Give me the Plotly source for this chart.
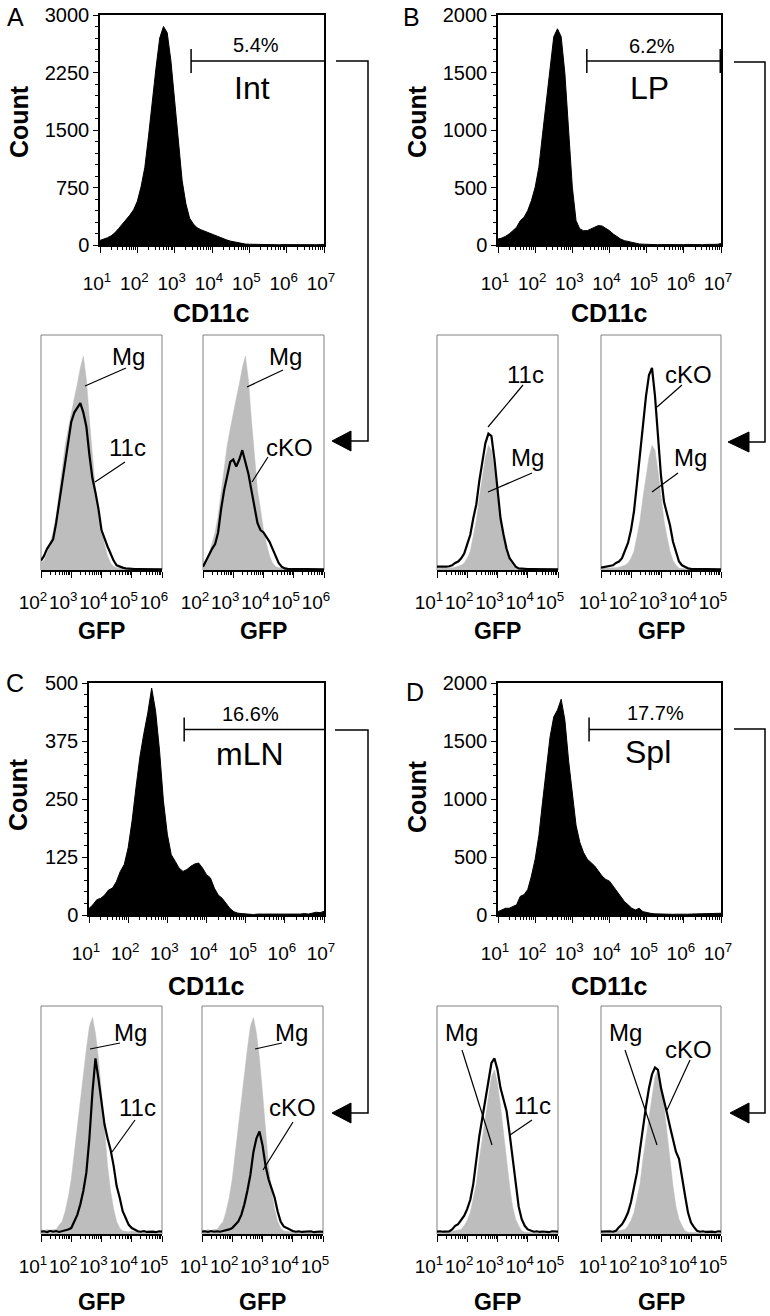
import plotly.graph_objects as go

W, H = 770, 1316
FONT = "Liberation Sans"

# ---------------- data ----------------
PANELS = ["A", "B", "C", "D"]
TISSUES = ["Int", "LP", "mLN", "Spl"]
GATE_PCT = ["5.4%", "6.2%", "16.6%", "17.7%"]
GATE_START_LOG = [3.44, 3.39, 3.43, 3.45]
GATE_COUNT = [2400, 1600, 400, 1600]
COUNT_MAX = [3000, 2000, 500, 2000]
COUNT_TICKS = [[0, 750, 1500, 2250, 3000], [0, 500, 1000, 1500, 2000],
               [0, 125, 250, 375, 500], [0, 500, 1000, 1500, 2000]]
COUNT_MINOR = [150, 100, 25, 100]

CD11C_LOG_BINS = [1.0, 1.1, 1.2, 1.3, 1.4, 1.5, 1.6, 1.7, 1.8, 1.9,
                  2.0, 2.1, 2.2, 2.3, 2.4, 2.5, 2.6, 2.7, 2.8, 2.9,
                  3.0, 3.1, 3.2, 3.3, 3.4, 3.5, 3.6, 3.7, 3.8, 3.9,
                  4.0, 4.1, 4.2, 4.3, 4.4, 4.5, 4.6, 4.7, 4.8, 4.9,
                  5.0, 5.1, 5.2, 5.3, 5.4, 5.5, 5.6, 5.7, 5.8, 5.9,
                  6.0, 6.1, 6.2, 6.3, 6.4, 6.5, 6.6, 6.7, 6.8, 6.9, 7.0]

CD11C_INT = [60, 75, 95, 120, 160, 215, 270, 330, 390, 460,
             570, 760, 1010, 1420, 1880, 2310, 2700, 2850, 2770, 2400,
             1880, 1360, 840, 540, 350, 275, 225, 200, 180, 160,
             145, 120, 95, 80, 65, 50, 40, 25, 15, 12,
             10, 8, 6, 5, 4, 5, 3, 4, 3, 5,
             4, 3, 4, 5, 3, 4, 3, 5, 4, 6, 8]
CD11C_LP = [52, 60, 75, 96, 125, 154, 212, 241, 300, 387,
            503, 677, 968, 1259, 1549, 1811, 1880, 1811, 1491, 968,
            503, 212, 140, 125, 125, 140, 154, 169, 165, 148,
            125, 96, 73, 52, 38, 30, 23, 15, 9, 7,
            5, 4, 5, 3, 4, 3, 5, 4, 3, 4,
            3, 5, 3, 4, 4, 3, 5, 4, 3, 6, 12]
CD11C_MLN = [14, 22, 33, 36, 43, 54, 58, 72, 94, 109,
             145, 203, 275, 341, 391, 435, 489, 440, 355, 246,
             174, 130, 116, 101, 94, 98, 105, 110, 112, 101,
             87, 80, 58, 43, 36, 25, 14, 7, 4, 3,
             2, 2, 1, 2, 2, 1, 2, 1, 2, 2,
             1, 2, 2, 1, 2, 3, 2, 4, 6, 5, 8]
CD11C_SPL = [29, 44, 58, 58, 73, 88, 161, 175, 219, 336,
             482, 686, 978, 1270, 1533, 1708, 1767, 1860, 1679, 1329,
             1037, 774, 628, 540, 482, 453, 423, 380, 336, 307,
             292, 248, 204, 161, 117, 88, 58, 44, 58, 29,
             20, 15, 10, 8, 9, 7, 8, 6, 7, 9,
             8, 7, 8, 9, 7, 8, 10, 8, 9, 12, 15]
CD11C_COUNTS = [CD11C_INT, CD11C_LP, CD11C_MLN, CD11C_SPL]

GFP_LOG_BINS_A = [2.0, 2.1, 2.2, 2.3, 2.4, 2.5, 2.6, 2.7, 2.8, 2.9,
                  3.0, 3.1, 3.2, 3.3, 3.4, 3.5, 3.6, 3.7, 3.8, 3.9,
                  4.0, 4.1, 4.2, 4.3, 4.4, 4.5, 4.6, 4.7, 4.8, 4.9,
                  5.0, 5.1, 5.2, 5.3, 5.4, 5.5, 5.6, 5.7, 5.8, 5.9, 6.0]
GFP_LOG_BINS = [1.0, 1.1, 1.2, 1.3, 1.4, 1.5, 1.6, 1.7, 1.8, 1.9,
                2.0, 2.1, 2.2, 2.3, 2.4, 2.5, 2.6, 2.7, 2.8, 2.9,
                3.0, 3.1, 3.2, 3.3, 3.4, 3.5, 3.6, 3.7, 3.8, 3.9,
                4.0, 4.1, 4.2, 4.3, 4.4, 4.5, 4.6, 4.7, 4.8, 4.9, 5.0]

# GFP histograms, % of max (Mg = grey filled, 11c / cKO = black line)
GFP_INT_MG = [3, 4, 7, 11, 16, 23, 33, 43, 53, 60,
              67, 73, 79, 86, 91, 81, 64, 47, 34, 26,
              17, 11, 6, 3, 1.5, 1, 0.8, 0.6, 0.5, 0.5,
              0.4, 0.4, 0.3, 0.3, 0.3, 0.3, 0.3, 0.3, 0.3, 0.3, 0.3]
GFP_INT_11C = [4, 6, 9, 11, 13, 20, 29, 37, 46, 54,
               63, 67, 69, 71, 67, 61, 49, 39, 33, 26,
               17, 13, 10, 7, 4, 2, 1.4, 1, 0.7, 0.5,
               0.5, 0.4, 0.4, 0.4, 0.3, 0.3, 0.3, 0.3, 0.3, 0.3, 0.3]
GFP_INT_CKO = [1.4, 4, 6, 9, 11, 16, 26, 34, 40, 46,
               47, 44, 47, 51, 46, 41, 34, 26, 20, 17,
               16, 14, 12, 9, 6, 3, 1.4, 0.7, 0.5, 0.5,
               0.4, 0.4, 0.4, 0.3, 0.3, 0.3, 0.3, 0.3, 0.3, 0.3, 0.3]
GFP_LP_MG = [0.7, 0.7, 0.8, 0.8, 1, 1, 1.2, 1.5, 2, 3,
             5, 8, 14, 21, 31, 40, 48, 53, 51, 42,
             31, 21, 14, 8, 4, 2, 0.7, 0.5, 0.4, 0.4,
             0.3, 0.3, 0.3, 0.3, 0.3, 0.3, 0.3, 0.3, 0.3, 0.3, 0.3]
GFP_LP_11C = [1.4, 1.4, 1.2, 1.4, 1.6, 2, 3, 3.6, 5, 7,
              11, 15, 22, 28, 38, 47, 54, 58, 57, 47,
              34, 22, 15, 9, 5, 3, 1.4, 0.7, 0.5, 0.5,
              0.4, 0.4, 0.4, 0.3, 0.3, 0.3, 0.3, 0.3, 0.3, 0.3, 0.3]
GFP_LP_CKO = [1, 1.2, 1.4, 1.6, 2, 3, 3.6, 5, 8, 11.5,
              17, 25, 37, 50, 61, 74, 83, 86, 74, 57,
              40, 29, 24, 19, 12, 8, 3.6, 2, 1.4, 0.7,
              0.5, 0.5, 0.4, 0.4, 0.3, 0.3, 0.3, 0.3, 0.3, 0.3, 0.3]
GFP_MLN_MG = [2, 1.5, 2, 1.5, 2, 2, 4, 5.5, 10, 16,
              24, 36, 48, 59, 71, 81, 91, 95, 88, 77,
              62, 45, 30, 19, 11, 5.5, 2.6, 1.4, 1.2, 1,
              1.3, 1, 1.2, 0.9, 1, 1.1, 0.9, 1, 0.8, 1, 0.9]
GFP_MLN_11C = [1, 1.2, 0.8, 1.4, 1, 1.3, 0.9, 1.2, 1.5, 2,
               2.6, 5.5, 8.4, 13, 19, 27, 42, 62, 77, 68,
               59, 48, 42, 37, 30, 21, 16, 10, 7, 4,
               2.6, 2, 1.2, 1, 1.3, 0.9, 1.1, 1, 0.8, 1.2, 1]
GFP_MLN_CKO = [1, 1.2, 0.9, 1.3, 1, 1.2, 1, 1.3, 1.5, 2,
               2.6, 4, 5.5, 8.4, 13, 19, 26, 36, 42, 45,
               39, 30, 24, 20, 16, 10, 5.5, 3.3, 2.6, 2,
               1.3, 1, 1.2, 0.9, 1.1, 1, 1.2, 0.8, 1, 1.1, 0.9]
GFP_SPL_MG = [0.7, 0.7, 0.8, 0.8, 1, 1.2, 1.4, 1.7, 2, 3.6,
              6, 9.4, 15, 22, 33, 43, 51, 60, 69, 72,
              66, 56, 44, 33, 21, 12, 6.5, 3.6, 1.4, 0.8,
              0.7, 0.6, 0.5, 0.5, 0.4, 0.4, 0.4, 0.3, 0.3, 0.3, 0.3]
GFP_SPL_11C = [1, 1.2, 1, 1.2, 1.1, 2, 3.6, 4.3, 6, 8,
               11, 15, 22, 33, 43, 51, 59, 67, 75, 77,
               72, 64, 59, 54, 44, 33, 21, 12, 6.5, 3.6,
               2, 1.4, 1, 1.2, 0.9, 1.1, 1, 0.8, 1.2, 1, 1]
GFP_SPL_CKO = [1, 1.1, 0.9, 1.2, 1, 1.4, 3, 4.3, 6.5, 9.4,
               14, 20, 27, 37, 47, 56, 64, 70, 73, 72,
               64, 59, 53, 47, 41, 36, 33, 24, 17, 9.4,
               5, 3, 1.4, 1, 1.2, 0.9, 1.1, 1, 0.8, 1.2, 1]

GFP_BINS = [GFP_LOG_BINS_A, GFP_LOG_BINS, GFP_LOG_BINS, GFP_LOG_BINS]
GFP_RANGE = [(2, 6), (1, 5), (1, 5), (1, 5)]
GFP_MG = [GFP_INT_MG, GFP_LP_MG, GFP_MLN_MG, GFP_SPL_MG]
GFP_11C = [GFP_INT_11C, GFP_LP_11C, GFP_MLN_11C, GFP_SPL_11C]
GFP_CKO = [GFP_INT_CKO, GFP_LP_CKO, GFP_MLN_CKO, GFP_SPL_CKO]

# ---------------- layout geometry (pixels) ----------------
TOP_BOX = [(100, 324, 15, 245), (498, 721, 15, 245),
           (89, 324, 683, 915), (498, 721, 683, 915)]
GFP_BOX = [[(41, 162, 335, 570), (203, 324, 335, 570)],
           [(437, 558, 335, 570), (601, 721, 335, 570)],
           [(41, 162, 1006, 1234), (202, 323, 1006, 1234)],
           [(437, 558, 1006, 1234), (601, 721, 1006, 1234)]]

GREY = "#bdbdbd"


def px(p):
    return p / W


def py(p):
    return 1 - p / H


def sup_ticks(lo, hi):
    return ([10 ** k for k in range(lo, hi + 1)],
            [f"10<sup>{k}</sup>" for k in range(lo, hi + 1)])


def minor_vals(lo, hi):
    return [m * 10 ** k for k in range(lo, hi) for m in range(2, 10)]


tickfont = dict(family=FONT, size=19, color="black")
ytickfont = dict(family=FONT, size=20, color="black")
gfptickfont = dict(family=FONT, size=19, color="black")
fig = go.Figure()
layout = dict(width=W, height=H,
              margin=dict(l=0, r=0, t=0, b=0, pad=0, autoexpand=False),
              paper_bgcolor="white", plot_bgcolor="white", showlegend=False,
              font=dict(family=FONT, color="black"))
shapes = []
annotations = []


def ann(text, x, y, size, bold=False, angle=0):
    annotations.append(dict(
        text=f"<b>{text}</b>" if bold else text, x=px(x), y=py(y),
        xref="paper", yref="paper", showarrow=False, xanchor="center",
        yanchor="middle", textangle=angle,
        font=dict(family=FONT, size=size, color="black")))


def seg(x0, y0, x1, y1, w=1.2):
    shapes.append(dict(type="line", xref="paper", yref="paper",
                       x0=px(x0), y0=py(y0), x1=px(x1), y1=py(y1),
                       line=dict(color="black", width=w)))


n = 0
for i in range(4):
    # ---------- CD11c (top) histogram ----------
    n += 1
    x0, x1, y0, y1 = TOP_BOX[i]
    tv, tt = sup_ticks(1, 7)
    layout[f"xaxis{n}"] = dict(
        domain=[px(x0), px(x1)], anchor=f"y{n}", type="log", range=[1, 7],
        tickmode="array", tickvals=tv, ticktext=tt, ticks="outside",
        ticklen=6, tickwidth=1.3, tickcolor="black", showline=True,
        linecolor="black", linewidth=1.5, mirror=True, showgrid=False,
        zeroline=False, tickfont=tickfont, ticklabelstandoff=14,
        ticklabelshift=-3, tickangle=0, automargin=False,
        minor=dict(tickmode="array", tickvals=minor_vals(1, 7),
                   ticks="outside", ticklen=3, tickwidth=1,
                   tickcolor="black", showgrid=False))
    layout[f"yaxis{n}"] = dict(
        domain=[py(y1), py(y0)], anchor=f"x{n}", range=[0, COUNT_MAX[i]],
        tickmode="array", tickvals=COUNT_TICKS[i], ticks="outside",
        ticklen=5, tickwidth=1.3, tickcolor="black", showline=True,
        linecolor="black", linewidth=1.5, mirror=True, showgrid=False,
        zeroline=False, tickfont=ytickfont, automargin=False,
        minor=dict(tickmode="linear", tick0=0, dtick=COUNT_MINOR[i],
                   ticks="outside", ticklen=3, tickwidth=1,
                   tickcolor="black", showgrid=False))
    fig.add_trace(go.Scatter(
        x=[10 ** e for e in CD11C_LOG_BINS], y=CD11C_COUNTS[i], mode="lines",
        line=dict(color="black", width=1), fill="tozeroy", fillcolor="black",
        xaxis=f"x{n}", yaxis=f"y{n}", hoverinfo="skip"))
    # gate
    g0 = 10 ** GATE_START_LOG[i]
    gy = GATE_COUNT[i]
    half = 12 * COUNT_MAX[i] / (y1 - y0)
    fig.add_trace(go.Scatter(x=[g0, 1e7], y=[gy, gy], mode="lines",
                             line=dict(color="black", width=1.5),
                             xaxis=f"x{n}", yaxis=f"y{n}", hoverinfo="skip"))
    fig.add_trace(go.Scatter(x=[g0, g0], y=[gy - half, gy + half], mode="lines",
                             line=dict(color="black", width=1.5),
                             xaxis=f"x{n}", yaxis=f"y{n}", hoverinfo="skip"))
    if i == 1:
        fig.add_trace(go.Scatter(x=[1e7, 1e7], y=[gy - half, gy + half],
                                 mode="lines", line=dict(color="black", width=3),
                                 xaxis=f"x{n}", yaxis=f"y{n}", hoverinfo="skip",
                                 cliponaxis=False))

    # texts of the top panel
    cx = (x0 + x1) / 2
    ann(PANELS[i], [15, 411, 15, 415][i], [17, 17, 683, 692][i], 25)
    ann("Count", [19, 417, 18, 417][i], [122, 122, 795, 797][i], 25, bold=True, angle=-90)
    ann("CD11c", cx, [313, 313, 986, 986][i], 25, bold=True)
    ann(GATE_PCT[i], [256, 652, 250, 655][i], [45, 46, 714, 713][i], 20)
    ann(TISSUES[i], [252, 649, 250, 648][i], [88, 88, 754, 752][i], 32)

    # ---------- GFP (bottom) histograms ----------
    lo, hi = GFP_RANGE[i]
    gtv, gtt = sup_ticks(lo, hi)
    for j, series in enumerate([GFP_11C[i], GFP_CKO[i]]):
        n += 1
        bx0, bx1, by0, by1 = GFP_BOX[i][j]
        layout[f"xaxis{n}"] = dict(
            domain=[px(bx0), px(bx1)], anchor=f"y{n}", type="log",
            range=[lo, hi], tickmode="array", tickvals=gtv, ticktext=gtt,
            ticks="outside", ticklen=6, tickwidth=1.3, tickcolor="black",
            showline=True, linecolor="black", linewidth=1.5, mirror=False,
            showgrid=False, zeroline=False, tickfont=gfptickfont,
            ticklabelshift=-8, ticklabelstandoff=8, tickangle=0,
            automargin=False,
            minor=dict(tickmode="array", tickvals=minor_vals(lo, hi),
                       ticks="outside", ticklen=3, tickwidth=1,
                       tickcolor="black", showgrid=False))
        layout[f"yaxis{n}"] = dict(domain=[py(by1), py(by0)], anchor=f"x{n}",
                                   range=[0, 100], visible=False,
                                   automargin=False)
        shapes.append(dict(type="rect", xref=f"x{n} domain", yref=f"y{n} domain",
                           x0=0, x1=1, y0=0, y1=1, layer="below",
                           line=dict(color="#808080", width=1)))
        xs = [10 ** e for e in GFP_BINS[i]]
        fig.add_trace(go.Scatter(x=xs, y=GFP_MG[i], mode="lines",
                                 line=dict(color=GREY, width=0.5),
                                 fill="tozeroy", fillcolor=GREY,
                                 xaxis=f"x{n}", yaxis=f"y{n}", hoverinfo="skip"))
        fig.add_trace(go.Scatter(x=xs, y=series, mode="lines",
                                 line=dict(color="black", width=2.2),
                                 xaxis=f"x{n}", yaxis=f"y{n}", hoverinfo="skip"))
        ann("GFP", (bx0 + bx1) / 2, [631, 631, 1302, 1302][i], 23, bold=True)

# ---------- curve labels with leader lines ----------
LABELS = [
    # text, tx, ty, line x0, y0, x1, y1
    ("Mg", 128, 356, 126, 368, 85, 386),
    ("11c", 127, 447, 125, 462, 95, 482),
    ("Mg", 285, 356, 283, 370, 247, 387),
    ("cKO", 289, 447, 268, 457, 252, 482),
    ("11c", 525, 374, 523, 385, 488, 427),
    ("Mg", 527, 457, 532, 473, 488, 492),
    ("cKO", 688, 374, 682, 385, 657, 407),
    ("Mg", 690, 457, 678, 473, 652, 492),
    ("Mg", 130, 1032, 120, 1043, 90, 1049),
    ("11c", 137, 1107, 135, 1120, 112, 1152),
    ("Mg", 291, 1032, 282, 1043, 255, 1049),
    ("cKO", 292, 1107, 293, 1122, 263, 1170),
    ("Mg", 461, 1032, 462, 1050, 492, 1145),
    ("11c", 532, 1105, 532, 1120, 510, 1135),
    ("Mg", 625, 1032, 625, 1050, 657, 1145),
    ("cKO", 688, 1049, 690, 1060, 667, 1110),
]
for t, tx, ty, a0, b0, a1, b1 in LABELS:
    ann(t, tx, ty, 24)
    seg(a0, b0, a1, b1, 1.2)

# ---------- connectors (gate -> GFP plots) ----------
CONNECTORS = [(336, 61, 368, 441, 350, 332), (734, 62, 765, 442, 748, 728),
              (335, 730, 368, 1113, 350, 332), (734, 729, 765, 1113, 748, 730)]
for sx, sy, vx, ay, bx, tip in CONNECTORS:
    path = (f"M {px(sx)} {py(sy)} L {px(vx)} {py(sy)} "
            f"L {px(vx)} {py(ay)} L {px(bx)} {py(ay)}")
    shapes.append(dict(type="path", xref="paper", yref="paper", path=path,
                       line=dict(color="black", width=1.5)))
    tri = (f"M {px(tip)} {py(ay)} L {px(bx + 1)} {py(ay - 10)} "
           f"L {px(bx + 1)} {py(ay + 10)} Z")
    shapes.append(dict(type="path", xref="paper", yref="paper", path=tri,
                       fillcolor="black", line=dict(color="black", width=1)))

layout["shapes"] = shapes
layout["annotations"] = annotations
fig.update_layout(**layout)

fig.write_html("out.html", config={"displayModeBar": False},
               post_script="document.body.style.margin='0px';"
                           "document.body.style.overflow='hidden';")
